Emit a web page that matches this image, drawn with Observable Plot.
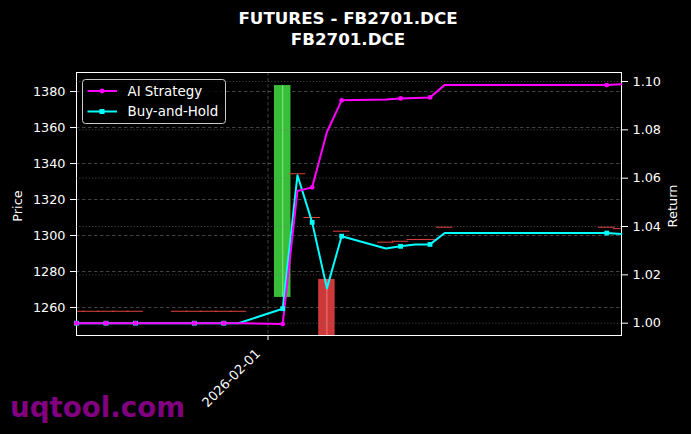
<!DOCTYPE html>
<html><head><meta charset="utf-8">
<script src="https://cdn.jsdelivr.net/npm/d3@7"></script>
<script src="https://cdn.jsdelivr.net/npm/@observablehq/plot@0.6"></script>
<style>
body{margin:0;background:#000;}
#wrap{position:relative;width:691px;height:434px;background:#000;overflow:hidden;font-family:"DejaVu Sans",sans-serif;color:#fff;}
.layer{position:absolute;left:0;top:0;}
.title{position:absolute;left:0;width:696px;text-align:center;font-weight:bold;font-size:16.7px;line-height:1;white-space:nowrap;}
.ylab{position:absolute;font-size:12.9px;line-height:1;white-space:nowrap;transform:translate(-50%,-50%) rotate(-90deg);}
.wm{position:absolute;left:10px;top:393.6px;font-weight:bold;font-size:27.7px;line-height:1;color:#800080;white-space:nowrap;}
</style></head><body><div id="wrap"></div>
<script>
const dates = ["2026-01-19","2026-01-20","2026-01-21","2026-01-22","2026-01-23",
  "2026-01-26","2026-01-27","2026-01-28","2026-01-29","2026-01-30",
  "2026-02-02","2026-02-03","2026-02-04","2026-02-05","2026-02-06",
  "2026-02-09","2026-02-10","2026-02-11","2026-02-12","2026-02-13",
  "2026-02-24","2026-02-25"];
const opens  = [1257.9,1257.9,1257.9,1257.9,1257.9,1257.9,1257.9,1257.9,1257.9,1257.9,
  1265.6,1334.3,1310.0,1275.6,1302.4,1296.3,1296.8,1297.8,1297.8,1304.6,1304.6,1303.8];
const closes = [1257.9,1257.9,1257.9,1257.9,1257.9,1257.9,1257.9,1257.9,1257.9,1257.9,
  1383.3,1334.3,1310.0,1238.0,1302.4,1296.3,1296.8,1297.8,1297.8,1304.6,1304.6,1303.8];
const highs  = [1257.9,1257.9,1257.9,1257.9,1257.9,1257.9,1257.9,1257.9,1257.9,1257.9,
  1383.3,1334.3,1310.0,1275.6,1302.4,1296.3,1296.8,1297.8,1297.8,1304.6,1304.6,1303.8];
const lows   = [1257.9,1257.9,1257.9,1257.9,1257.9,1257.9,1257.9,1257.9,1257.9,1257.9,
  1265.6,1334.3,1310.0,1238.0,1302.4,1296.3,1296.8,1297.8,1297.8,1304.6,1304.6,1303.8];
const aiReturn = [1,1,1,1,1,1,1,1,1,1,
  0.9997,1.0547,1.0562,1.0791,1.0922,1.0926,1.0930,1.0932,1.0934,1.0986,1.0985,1.0989];
const bhReturn = [1,1,1,1,1,1,1,1,1,1,
  1.0060,1.0612,1.0417,1.0144,1.0360,1.0309,1.0318,1.0326,1.0326,1.0373,1.0373,1.0369];
const priceTicks = [1260,1280,1300,1320,1340,1360,1380];
const returnTicks = [1.00,1.02,1.04,1.06,1.08,1.10];
const dateTicks = ["2026-02-01"];
const seriesNames = ["AI Strategy","Buy-and-Hold"];
const titleLines = ["FUTURES - FB2701.DCE","FB2701.DCE"];

const rows = dates.map((d,i)=>({date:new Date(d),open:opens[i],close:closes[i],high:highs[i],low:lows[i],ai:aiReturn[i],bh:bhReturn[i],i}));
const DAY = 86400000, HW = 0.56*DAY;
const bodies = rows.filter(d=>d.open!==d.close);
const dojis = rows.filter(d=>d.open===d.close);
const xDomain = [rows[0].date, rows[rows.length-1].date];
const W=691,H=434,ML=76,MR=70,MT=72,MB=99;
const baseStyle = {background:"transparent",color:"#fff",fontFamily:"DejaVu Sans",fontSize:"12.8px",overflow:"visible"};

const plotA = Plot.plot({
  width:W,height:H,marginLeft:ML,marginRight:MR,marginTop:MT,marginBottom:MB,
  style:baseStyle,
  x:{type:"utc",domain:xDomain,clamp:true,ticks:dateTicks.map(d=>new Date(d)),tickFormat:()=>"",tickSize:5,tickPadding:3,label:null},
  y:{domain:[1244.44,1390.56],clamp:true,ticks:priceTicks,tickFormat:d=>String(d),tickSize:6,tickPadding:5,label:null},
  marks:[
    Plot.ruleY(priceTicks,{stroke:"#777",strokeOpacity:0.7,strokeWidth:0.8,strokeDasharray:"3.5,2.5"}),
    Plot.ruleX(dateTicks.map(d=>new Date(d)),{stroke:"#777",strokeOpacity:0.7,strokeWidth:0.8,strokeDasharray:"3.5,2.5"}),
    Plot.rect(bodies,{x1:d=>new Date(+d.date-HW),x2:d=>new Date(+d.date+HW),y1:"open",y2:"close",fill:d=>d.close>d.open?"#3cc83c":"#d83c3c",fillOpacity:0.95}),
    Plot.ruleX(bodies,{x:"date",y1:"low",y2:"high",stroke:d=>d.close>d.open?"#80e880":"#f07a7a",strokeWidth:1}),
    Plot.ruleY(dojis,{y:"close",x1:d=>new Date(+d.date-HW),x2:d=>new Date(+d.date+HW),stroke:"#e04040",strokeWidth:1}),
    Plot.frame({stroke:"#fff",strokeWidth:1}),
    Plot.text(dateTicks,{x:d=>new Date(d),text:d=>d,frameAnchor:"bottom",textAnchor:"end",rotate:-45,dx:-7,dy:19,fill:"#fff",fontSize:13})
  ]
});
plotA.classList.add("layer");

const plotB = Plot.plot({
  width:W,height:H,marginLeft:ML,marginRight:MR,marginTop:MT,marginBottom:MB,
  style:baseStyle,
  x:{type:"utc",domain:xDomain,axis:null},
  y:{domain:[0.99491,1.10372],axis:"right",ticks:returnTicks,tickFormat:d3.format(".2f"),tickSize:6,tickPadding:5,label:null},
  marks:[
    Plot.ruleY(returnTicks,{stroke:"#777",strokeOpacity:0.7,strokeWidth:0.8,strokeDasharray:"1.2,2"}),
    Plot.line(rows,{x:"date",y:"bh",stroke:"#00ffff",strokeWidth:2}),
    Plot.line(rows,{x:"date",y:"ai",stroke:"#ff00ff",strokeWidth:2}),
    Plot.dot(rows.filter(d=>d.i%2===0),{x:"date",y:"bh",symbol:"square",r:2.7,fill:"#00ffff",stroke:"none"}),
    Plot.dot(rows.filter(d=>d.i%2===0),{x:"date",y:"ai",r:2.4,fill:"#ff00ff",stroke:"none"})
  ]
});
plotB.classList.add("layer");

const wrap = document.getElementById("wrap");
wrap.appendChild(plotA);
wrap.appendChild(plotB);

titleLines.forEach((t,k)=>{const el=document.createElement("div");el.className="title";el.style.top=(9.9+21*k)+"px";el.textContent=t;wrap.appendChild(el);});
[["Price",17.5],["Return",673]].forEach(([t,x])=>{const el=document.createElement("div");el.className="ylab";el.style.left=x+"px";el.style.top="206px";el.textContent=t;wrap.appendChild(el);});
const wm=document.createElement("div");wm.className="wm";wm.textContent="uqtool.com";wrap.appendChild(wm);
const ns="http://www.w3.org/2000/svg";
const lg=document.createElementNS(ns,"svg");
lg.setAttribute("width","150");lg.setAttribute("height","50");
lg.style.position="absolute";lg.style.left="80px";lg.style.top="77px";
const colors=["#ff00ff","#00ffff"];
lg.innerHTML = `<rect x="2.5" y="2.5" width="143" height="44" rx="3" fill="#000" fill-opacity="0.8" stroke="#cccccc" stroke-width="1"/>` +
  seriesNames.map((n,k)=>{const cy=14+20.5*k;const c=colors[k];
    const mk = k===0?`<circle cx="22" cy="${cy}" r="2.4" fill="${c}"/>`:`<rect x="19.5" y="${cy-2.5}" width="5" height="5" fill="${c}"/>`;
    return `<line x1="7.5" x2="37" y1="${cy}" y2="${cy}" stroke="${c}" stroke-width="2"/>${mk}<text x="47.5" y="${cy+4.8}" fill="#fff" font-family="DejaVu Sans" font-size="13.4px">${n}</text>`;}).join("");
wrap.appendChild(lg);
</script></body></html>
